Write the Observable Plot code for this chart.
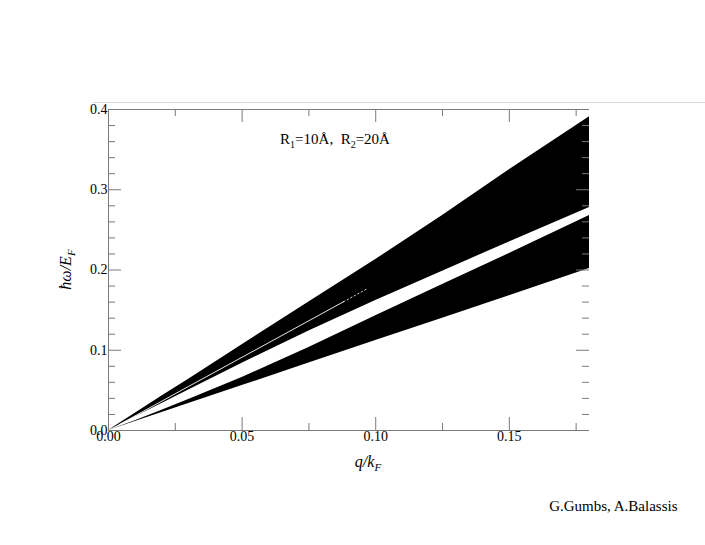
<!DOCTYPE html>
<html><head><meta charset="utf-8">
<script src="https://cdn.jsdelivr.net/npm/d3@7"></script>
<script src="https://cdn.jsdelivr.net/npm/@observablehq/plot@0.6"></script>
<style>
body{margin:0;background:#fff}
#wrap{position:relative;width:705px;height:545px}
#hdr{position:absolute;left:93px;top:102px;width:612px;height:1px;background:#d9d9d9}
</style>
</head><body><div id="wrap"></div>
<script>
// q/kF sample points and band edges (ħω/EF)
const q      = [0, 0.01, 0.02, 0.03, 0.05, 0.075, 0.10, 0.125, 0.15, 0.18];
const aTop   = [0, 0.0215, 0.043, 0.064, 0.107, 0.160, 0.213, 0.268, 0.325, 0.391];
const aBot   = [0, 0.0170, 0.0338, 0.0505, 0.0837, 0.1240, 0.1620, 0.1985, 0.2350, 0.2780];
const bTop   = [0, 0.0122, 0.0252, 0.0385, 0.0661, 0.1035, 0.1431, 0.1820, 0.2205, 0.2680];
const bBot   = [0, 0.0112, 0.0224, 0.0336, 0.0560, 0.0840, 0.1120, 0.1400, 0.1680, 0.2020];
// thin white split inside the upper band (solid part, then broken tail)
const gapQ   = [0.004, 0.03, 0.06, 0.088];
const gapY   = [0.0074, 0.0550, 0.1095, 0.1605];
const tailQ  = [0.088, 0.097];
const tailY  = [0.1605, 0.1770];

const xMajor = [0, 0.05, 0.10, 0.15];
const xMinor = [0.025, 0.075, 0.125, 0.175];
const yMajor = [0, 0.1, 0.2, 0.3, 0.4];
const yMinor = [0.02,0.04,0.06,0.08,0.12,0.14,0.16,0.18,0.22,0.24,0.26,0.28,0.32,0.34,0.36,0.38];

const bands = q.map((d, i) => ({q: d, aTop: aTop[i], aBot: aBot[i], bTop: bTop[i], bBot: bBot[i]}));
const gap = gapQ.map((d, i) => ({q: d, y: gapY[i]}));
const tail = tailQ.map((d, i) => ({q: d, y: tailY[i]}));

const W = 705, H = 545, mL = 108, mR = 116, mT = 109, mB = 115;
const fw = W - mL - mR, fh = H - mT - mB;
const grey = "#7a7a7a", serif = "Liberation Serif, Times New Roman, serif";
const big = 13, small = 7;

const chart = Plot.plot({
  width: W, height: H,
  marginLeft: mL, marginRight: mR, marginTop: mT, marginBottom: mB,
  style: {fontFamily: serif, fontSize: "14px", background: "white", color: "black"},
  x: {domain: [0, 0.18], label: null},
  y: {domain: [0, 0.4], label: null},
  marks: [
    Plot.areaY(bands, {x: "q", y1: "aBot", y2: "aTop", fill: "black"}),
    Plot.areaY(bands, {x: "q", y1: "bBot", y2: "bTop", fill: "black"}),
    Plot.line(gap, {x: "q", y: "y", stroke: "white", strokeWidth: 0.9}),
    Plot.line(tail, {x: "q", y: "y", stroke: "white", strokeWidth: 0.8, strokeDasharray: "1.5,2.5"}),
    Plot.ruleY([0], {stroke: grey}),
    Plot.ruleY([0.4], {stroke: grey}),
    Plot.ruleX([0], {stroke: grey}),
    Plot.tickX(xMajor, {x: d => d, insetTop: fh - big, stroke: grey}),
    Plot.tickX(xMinor, {x: d => d, insetTop: fh - small, stroke: grey}),
    Plot.tickX(xMajor, {x: d => d, insetBottom: fh - big, stroke: grey}),
    Plot.tickX(xMinor, {x: d => d, insetBottom: fh - small, stroke: grey}),
    Plot.tickY(yMajor, {y: d => d, insetRight: fw - big, stroke: grey}),
    Plot.tickY(yMinor, {y: d => d, insetRight: fw - small, stroke: grey}),
    Plot.tickY(yMajor, {y: d => d, insetLeft: fw - big, stroke: grey}),
    Plot.tickY(yMinor, {y: d => d, insetLeft: fw - small, stroke: grey}),
    Plot.axisX(xMajor, {tickSize: 0, tickPadding: 1, tickFormat: d => d.toFixed(2), fontSize: 14, fontFamily: serif, fill: "black", label: null}),
    Plot.axisY(yMajor, {tickSize: 0, tickPadding: 1, tickFormat: d => d.toFixed(1), fontSize: 14, fontFamily: serif, fill: "black", label: null}),
    Plot.text(["G.Gumbs, A.Balassis"], {text: d => d, frameAnchor: "bottom-right", dx: 88, dy: 80, textAnchor: "end", lineAnchor: "bottom", fontSize: 15, fontFamily: serif, fill: "black"})
  ]
});

document.getElementById("wrap").appendChild(chart);
const hdr = document.createElement("div"); hdr.id = "hdr";
document.getElementById("wrap").appendChild(hdr);

const svg = d3.select(chart);
const xs = chart.scale("x"), ys = chart.scale("y");

// annotation R1=10Å, R2=20Å
const ann = svg.append("text")
  .attr("x", xs.apply(0.0644)).attr("y", ys.apply(0.356))
  .attr("text-anchor", "start")
  .attr("font-family", serif).attr("font-size", 15).attr("fill", "black");
ann.append("tspan").text("R");
ann.append("tspan").attr("font-size", 10).attr("dy", 4).text("1");
ann.append("tspan").attr("dy", -4).text("=10Å,\u00a0\u00a0R");
ann.append("tspan").attr("font-size", 10).attr("dy", 4).text("2");
ann.append("tspan").attr("dy", -4).text("=20Å");

// x title q/kF
const xt = svg.append("text")
  .attr("x", xs.apply(0.0973)).attr("y", ys.apply(0) + 37)
  .attr("text-anchor", "middle").attr("font-family", serif).attr("font-size", 16)
  .attr("font-style", "italic").attr("fill", "black");
xt.append("tspan").text("q/k");
xt.append("tspan").attr("font-size", 11).attr("dy", 4).text("F");

// y title ħω/EF
const yt = svg.append("text")
  .attr("transform", `translate(71,${ys.apply(0.2)}) rotate(-90)`)
  .attr("text-anchor", "middle").attr("font-family", serif).attr("font-size", 16)
  .attr("font-style", "italic").attr("fill", "black");
yt.append("tspan").text("ħω/E");
yt.append("tspan").attr("font-size", 11).attr("dy", 4).text("F");
</script>
</body></html>
